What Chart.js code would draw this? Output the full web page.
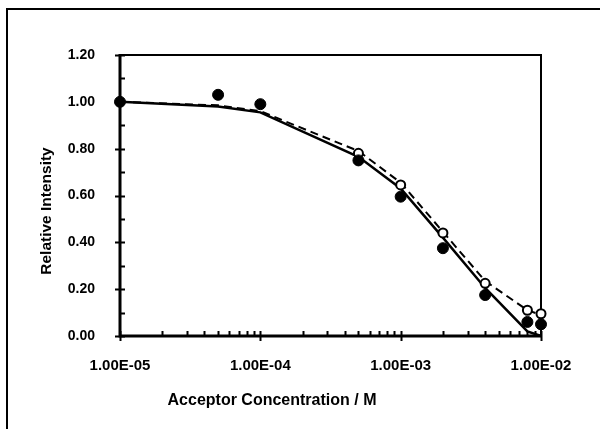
<!DOCTYPE html>
<html><head><meta charset="utf-8">
<script src="https://cdn.jsdelivr.net/npm/chart.js@4/dist/chart.umd.min.js"></script>
<style>html,body{margin:0;padding:0;background:#fff}</style>
</head><body>
<canvas id="c" width="600" height="429"></canvas>
<script>
// ---- data ----
const concentrations = [1e-5, 5e-5, 1e-4, 5e-4, 1e-3, 2e-3, 4e-3, 8e-3, 1e-2];
const filledIntensity = [1.00, 1.03, 0.99, 0.75, 0.595, 0.375, 0.175, 0.06, 0.05];
const openConcentrations = [5e-4, 1e-3, 2e-3, 4e-3, 8e-3, 1e-2];
const openIntensity = [0.78, 0.645, 0.44, 0.225, 0.11, 0.095];
const solidFit = [1.00, 0.98, 0.955, 0.765, 0.63, 0.42, 0.205, 0.02, 0.0];
const dashedFit = [1.00, 0.985, 0.96, 0.79, 0.655, 0.445, 0.235, 0.11, 0.09];
const xTickValues = [1e-5, 1e-4, 1e-3, 1e-2];
const xTickLabels = ['1.00E-05', '1.00E-04', '1.00E-03', '1.00E-02'];
const yTickValues = [0, 0.2, 0.4, 0.6, 0.8, 1.0, 1.2];
const yTickLabels = ['0.00', '0.20', '0.40', '0.60', '0.80', '1.00', '1.20'];
const xTitle = 'Acceptor Concentration / M';
const yTitle = 'Relative Intensity';

const pts = (xs, ys) => xs.map((x, i) => ({x, y: ys[i]}));
const FONT = '"Liberation Sans", Arial, sans-serif';

const decor = {
  id: 'decor',
  beforeDatasetsDraw(chart) {
    const ctx = chart.ctx, a = chart.chartArea, xs = chart.scales.x, ys = chart.scales.y;
    ctx.save();
    ctx.strokeStyle = '#000';
    // outer frame
    ctx.lineWidth = 2;
    ctx.beginPath(); ctx.moveTo(7, 429); ctx.lineTo(7, 9); ctx.lineTo(600, 9); ctx.stroke();
    // plot box top/right
    ctx.lineWidth = 2;
    ctx.beginPath(); ctx.moveTo(a.left, a.top); ctx.lineTo(a.right, a.top); ctx.lineTo(a.right, a.bottom); ctx.stroke();
    // axes
    ctx.lineWidth = 3;
    ctx.beginPath(); ctx.moveTo(a.left, a.top - 1); ctx.lineTo(a.left, a.bottom); ctx.lineTo(a.right + 1, a.bottom); ctx.stroke();
    ctx.lineWidth = 2;
    // y ticks
    ctx.beginPath();
    for (let i = 0; i < yTickValues.length; i++) {
      const y = Math.round(ys.getPixelForValue(yTickValues[i])) + 0.5;
      ctx.moveTo(a.left - 5, y); ctx.lineTo(a.left + 5, y);
      if (i < yTickValues.length - 1) {
        const ym = Math.round(ys.getPixelForValue((yTickValues[i] + yTickValues[i + 1]) / 2)) + 0.5;
        ctx.moveTo(a.left, ym); ctx.lineTo(a.left + 5, ym);
      }
    }
    // x ticks
    for (let i = 0; i < xTickValues.length; i++) {
      const x = Math.round(xs.getPixelForValue(xTickValues[i])) + 0.5;
      ctx.moveTo(x, a.bottom + 5); ctx.lineTo(x, a.bottom - 5);
      if (i < xTickValues.length - 1) {
        for (let m = 2; m <= 9; m++) {
          const xm = Math.round(xs.getPixelForValue(xTickValues[i] * m)) + 0.5;
          ctx.moveTo(xm, a.bottom); ctx.lineTo(xm, a.bottom - 5);
        }
      }
    }
    ctx.stroke();
    ctx.restore();
  },
  afterDraw(chart) {
    const ctx = chart.ctx;
    ctx.save();
    ctx.fillStyle = '#000';
    ctx.textAlign = 'center'; ctx.textBaseline = 'middle';
    ctx.font = 'bold 16px ' + FONT;
    ctx.fillText(xTitle, 272, 401);
    ctx.font = 'bold 15.5px ' + FONT;
    ctx.translate(47, 211); ctx.rotate(-Math.PI / 2);
    ctx.fillText(yTitle, 0, 0);
    ctx.restore();
  }
};

new Chart(document.getElementById('c'), {
  type: 'scatter',
  data: {
    datasets: [
      { label: 'filled', data: pts(concentrations, filledIntensity), order: 0, clip: false,
        pointRadius: 5.5, pointBackgroundColor: '#000', pointBorderColor: '#000', pointBorderWidth: 1, showLine: false },
      { label: 'open', data: pts(openConcentrations, openIntensity), order: 1, clip: false,
        pointRadius: 4.5, pointBackgroundColor: '#fff', pointBorderColor: '#000', pointBorderWidth: 2, showLine: false },
      { label: 'solid fit', data: pts(concentrations, solidFit), order: 2, clip: false,
        showLine: true, borderColor: '#000', borderWidth: 2.5, pointRadius: 0, tension: 0 },
      { label: 'dashed fit', data: pts(concentrations, dashedFit), order: 3, clip: false,
        showLine: true, borderColor: '#000', borderWidth: 2, borderDash: [8, 5], pointRadius: 0, tension: 0 }
    ]
  },
  options: {
    responsive: false,
    animation: false,
    devicePixelRatio: 1,
    layout: { padding: { left: 0, right: 59, top: 55, bottom: 0 } },
    plugins: { legend: { display: false }, tooltip: { enabled: false } },
    scales: {
      x: {
        type: 'logarithmic', min: 1e-5, max: 1e-2,
        afterFit: s => { s.height = 429 - 336; },
        afterBuildTicks: s => { s.ticks = xTickValues.map(v => ({value: v})); },
        grid: { display: false, drawTicks: false },
        border: { display: false },
        ticks: { color: '#000', font: { family: FONT, size: 15, weight: 'bold' }, padding: 21,
          maxRotation: 0, autoSkip: false,
          callback: (v) => { const i = xTickValues.findIndex(t => Math.abs(t - v) / t < 1e-6); return i >= 0 ? xTickLabels[i] : ''; } }
      },
      y: {
        min: 0, max: 1.2,
        afterFit: s => { s.width = 120; },
        afterBuildTicks: s => { s.ticks = yTickValues.map(v => ({value: v})); },
        grid: { display: false, drawTicks: false },
        border: { display: false },
        ticks: { color: '#000', font: { family: FONT, size: 14, weight: 'bold' }, padding: 25,
          callback: (v) => { const i = yTickValues.findIndex(t => Math.abs(t - v) < 1e-6); return i >= 0 ? yTickLabels[i] : ''; } }
      }
    }
  },
  plugins: [decor]
});
</script>
</body></html>
